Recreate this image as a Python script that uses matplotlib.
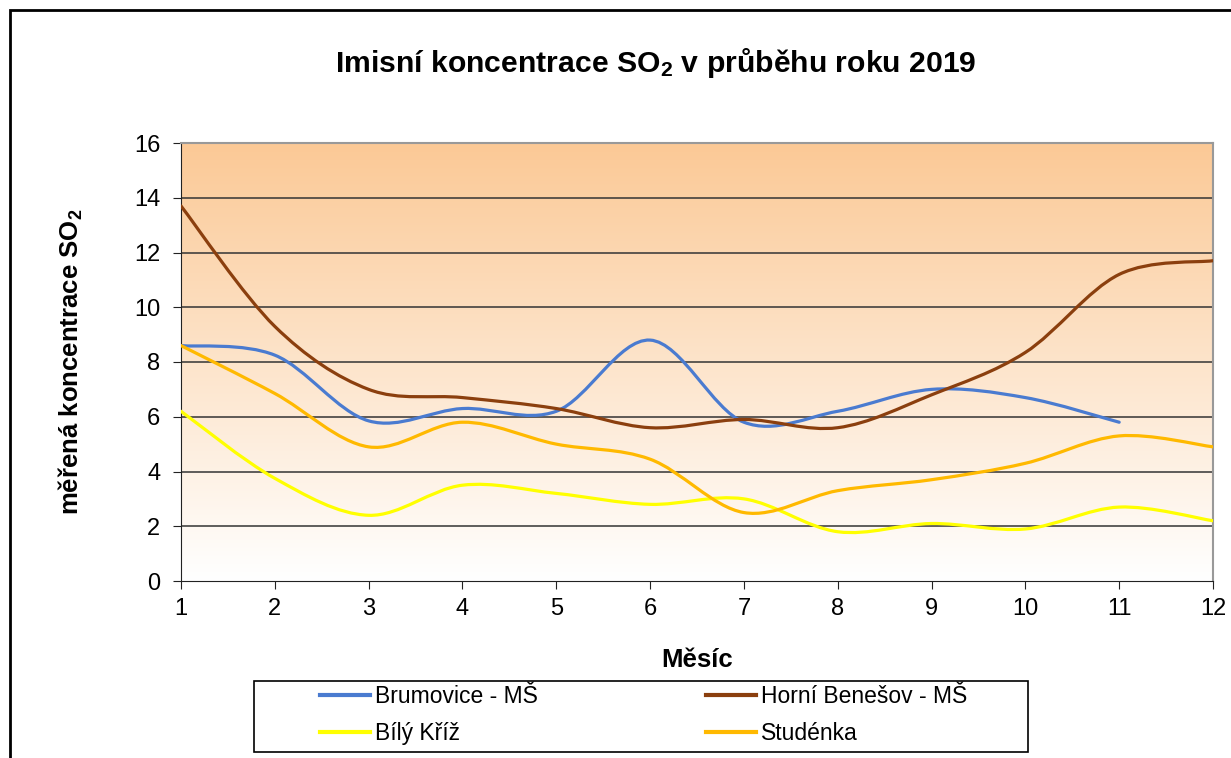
import numpy as np
import matplotlib
matplotlib.use('Agg')
import matplotlib.pyplot as plt
from matplotlib.path import Path
from matplotlib.patches import PathPatch, Rectangle
from matplotlib.lines import Line2D

plt.rcParams['font.family'] = ['Liberation Sans', 'DejaVu Sans']
plt.rcParams['mathtext.default'] = 'regular'

# Data
months = [1, 2, 3, 4, 5, 6, 7, 8, 9, 10, 11, 12]
brumovice = [8.6, 8.25, 5.85, 6.3, 6.2, 8.8, 5.8, 6.2, 7.0, 6.7, 5.8]
horni_benesov = [13.7, 9.3, 7.0, 6.7, 6.3, 5.6, 5.9, 5.6, 6.8, 8.35, 11.2, 11.7]
bily_kriz = [6.2, 3.75, 2.4, 3.5, 3.2, 2.8, 3.0, 1.8, 2.1, 1.9, 2.7, 2.2]
studenka = [8.6, 6.85, 4.9, 5.8, 5.0, 4.45, 2.5, 3.3, 3.7, 4.3, 5.3, 4.9]

series = [
    ('Brumovice - MŠ', brumovice, '#4a7bd0'),
    ('Horní Benešov - MŠ', horni_benesov, '#8b3f0e'),
    ('Bílý Kříž', bily_kriz, '#ffff00'),
    ('Studénka', studenka, '#ffb900'),
]


def smooth_path(x, y):
    # Excel-like smoothed line: cubic Bezier segments through the points
    pts = np.column_stack([x, y]).astype(float)
    n = len(pts)
    verts = [pts[0]]
    codes = [Path.MOVETO]
    for i in range(n - 1):
        p0 = pts[i - 1] if i > 0 else pts[i]
        p1 = pts[i]
        p2 = pts[i + 1]
        p3 = pts[i + 2] if i + 2 < n else pts[i + 1]
        c1 = p1 + (p2 - p0) / 6.0
        c2 = p2 - (p3 - p1) / 6.0
        verts += [c1, c2, p2]
        codes += [Path.CURVE4] * 3
    return Path(verts, codes)


fig = plt.figure(figsize=(12.31, 7.58), dpi=100)
W, H = 1231, 758
ax = fig.add_axes([181 / W, 1 - 581 / H, (1213 - 181) / W, (581 - 143) / H])

# gradient background
top = np.array([251, 201, 150]) / 255.0
bot = np.array([255, 255, 255]) / 255.0
t = np.linspace(0, 1, 256)[:, None]
grad = (top * (1 - t) + bot * t)[:, None, :]
ax.imshow(grad, aspect='auto', extent=[0, 1, 0, 1], transform=ax.transAxes,
          zorder=0, interpolation='bilinear')

ax.set_xlim(1, 12)
ax.set_ylim(0, 16)
ax.set_yticks(range(0, 17, 2))
ax.set_xticks(months)
for v in range(2, 16, 2):
    ax.axhline(v, color='#333333', lw=1.1, zorder=1)

handles = {}
for name, vals, col in series:
    xs = months[:len(vals)]
    patch = PathPatch(smooth_path(xs, vals), facecolor='none', edgecolor=col,
                      lw=2.3, zorder=3, capstyle='round', joinstyle='round')
    ax.add_patch(patch)
    handles[name] = Line2D([0], [0], color=col, lw=3)

for s in ['top', 'right']:
    ax.spines[s].set_color('#999999')
    ax.spines[s].set_linewidth(1.5)
ax.spines['left'].set_color('#222222')
ax.spines['bottom'].set_color('#222222')
ax.tick_params(axis='both', labelsize=17, direction='out', length=6,
               color='#222222')
ax.tick_params(axis='y', pad=9)
ax.tick_params(axis='x', pad=6)

ax.set_ylabel('měřená koncentrace SO$_2$', fontsize=18.5, fontweight='bold')
ax.yaxis.set_label_coords((71 - 181) / (1213 - 181), 0.5)
ax.set_xlabel('Měsíc', fontsize=18.5, fontweight='bold')
ax.xaxis.set_label_coords(0.5, -(660 - 581) / (581 - 143))
ax.xaxis.label.set_va('center')
ax.yaxis.label.set_va('center')
fig.text(656 / W, 1 - 63 / H, 'Imisní koncentrace SO$_2$ v průběhu roku 2019',
         ha='center', va='center', fontsize=21.7, fontweight='bold')

# outer chart border
fig.patches.append(Rectangle((10 / W, -0.1), 1.2, 1 - 10 / H + 0.1,
                             transform=fig.transFigure, fill=False,
                             edgecolor='black', lw=2))

# legend box
fig.patches.append(Rectangle((254 / W, 1 - 752 / H), (1028 - 254) / W, (752 - 681) / H,
                             transform=fig.transFigure, fill=False,
                             edgecolor='black', lw=1.2))
order = ['Brumovice - MŠ', 'Bílý Kříž', 'Horní Benešov - MŠ', 'Studénka']
leg = fig.legend([handles[k] for k in order], order, ncol=2,
                 loc='center left', bbox_to_anchor=(320 / W, 1 - 715 / H),
                 fontsize=16.5, frameon=False, handlelength=2.2,
                 handletextpad=0.22, borderaxespad=0, borderpad=0,
                 labelspacing=0.65, columnspacing=7.3)

fig.savefig('out.png', dpi=100)
